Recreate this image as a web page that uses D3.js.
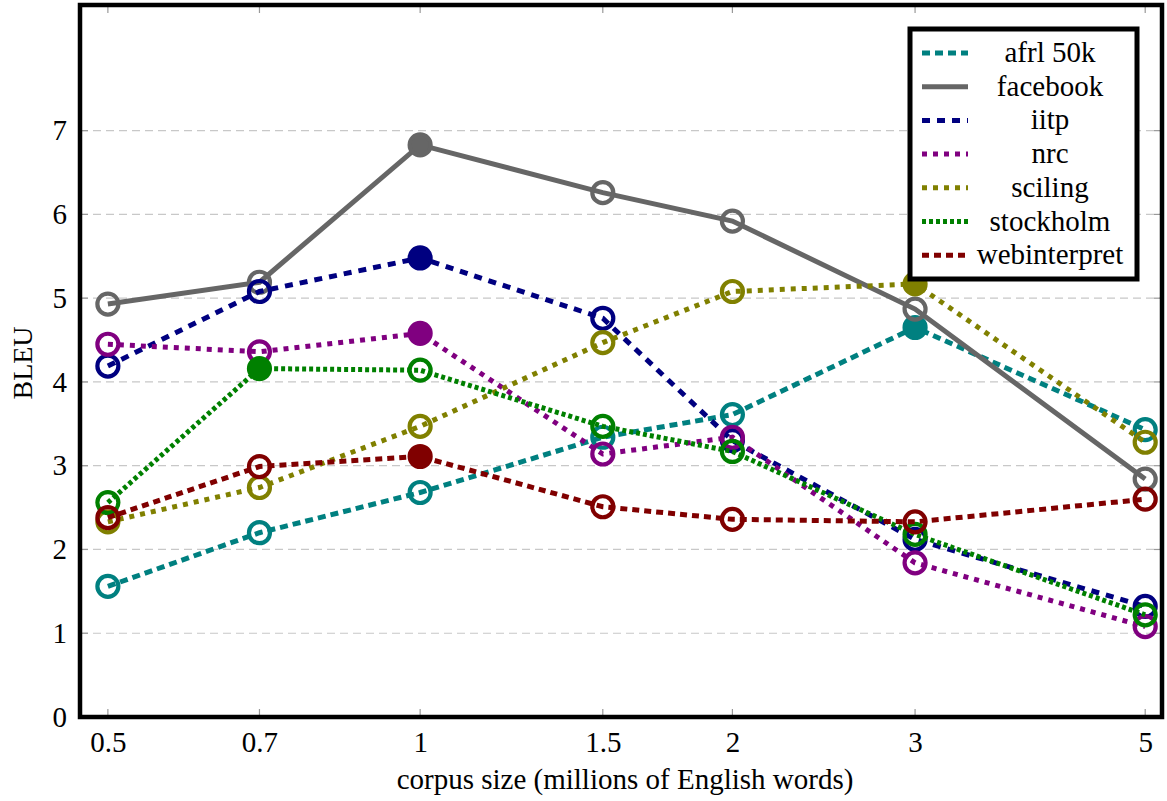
<!DOCTYPE html>
<html>
<head>
<meta charset="utf-8">
<script src="https://cdn.jsdelivr.net/npm/d3@7"></script>
<style>
  html, body { margin: 0; padding: 0; background: #fff; }
  svg { display: block; }
  text { font-family: "Liberation Serif", "DejaVu Serif", serif; fill: #000; }
</style>
</head>
<body>
<svg id="chart" width="1167" height="801"></svg>
<script>
const xValues = [0.5, 0.7, 1, 1.5, 2, 3, 5];
const xTickLabels = ["0.5", "0.7", "1", "1.5", "2", "3", "5"];
const yTicks = [0, 1, 2, 3, 4, 5, 6, 7];

const seriesNames = ["afrl 50k", "facebook", "iitp", "nrc", "sciling", "stockholm", "webinterpret"];
const afrl50k     = [1.56, 2.20, 2.68, 3.34, 3.61, 4.65, 3.43];
const facebook    = [4.93, 5.19, 6.83, 6.26, 5.92, 4.87, 2.84];
const iitp        = [4.19, 5.08, 5.48, 4.76, 3.30, 2.12, 1.32];
const nrc         = [4.45, 4.36, 4.58, 3.14, 3.34, 1.84, 1.08];
const sciling     = [2.33, 2.74, 3.47, 4.47, 5.08, 5.17, 3.28];
const stockholm   = [2.56, 4.16, 4.14, 3.47, 3.17, 2.18, 1.22];
const webinterpret= [2.38, 2.99, 3.11, 2.51, 2.36, 2.33, 2.60];
const seriesValues = [afrl50k, facebook, iitp, nrc, sciling, stockholm, webinterpret];

const colors = ["#008080", "#666666", "#000080", "#800080", "#808000", "#008000", "#800000"];
const dashes = ["8,5", null, "8,7", "5,6", "5,6", "4,3", "7,5"];

const svg = d3.select("#chart");
const L = 80, R = 1162, T = 5, B = 717;
const FONT = "Liberation Serif, DejaVu Serif, serif";

const x = d3.scaleLog().domain([0.47, 5.19]).range([L, R]);
const y = d3.scaleLinear().domain([0, 8.5]).range([B, T]);

// grid
svg.append("g").selectAll("line").data(yTicks.filter(d => d > 0)).join("line")
  .attr("x1", L).attr("x2", R)
  .attr("y1", d => y(d)).attr("y2", d => y(d))
  .attr("stroke", "#c8c8c8").attr("stroke-width", 1.2).attr("stroke-dasharray", "8,5");

// tick marks (inside, top & bottom / left & right)
const tickG = svg.append("g").attr("stroke", "#999").attr("stroke-width", 1.2);
xValues.forEach(v => {
  tickG.append("line").attr("x1", x(v)).attr("x2", x(v)).attr("y1", B).attr("y2", B - 8);
  tickG.append("line").attr("x1", x(v)).attr("x2", x(v)).attr("y1", T).attr("y2", T + 8);
});
yTicks.forEach(v => {
  tickG.append("line").attr("x1", L).attr("x2", L + 8).attr("y1", y(v)).attr("y2", y(v));
  tickG.append("line").attr("x1", R).attr("x2", R - 8).attr("y1", y(v)).attr("y2", y(v));
});

// axes labels via d3 axes (labels only)
const xAxis = d3.axisBottom(x).tickValues(xValues).tickFormat((d, i) => xTickLabels[i]).tickSize(0).tickPadding(14);
const gx = svg.append("g").attr("transform", `translate(0,${B})`).call(xAxis);
gx.attr("font-family", FONT);
gx.select(".domain").remove();
gx.selectAll("text").attr("font-size", 29).attr("font-family", FONT).attr("fill", "#000");

const yAxis = d3.axisLeft(y).tickValues(yTicks).tickFormat(d3.format("d")).tickSize(0).tickPadding(13);
const gy = svg.append("g").attr("transform", `translate(${L},0)`).call(yAxis);
gy.attr("font-family", FONT);
gy.select(".domain").remove();
gy.selectAll("text").attr("font-size", 29).attr("font-family", FONT).attr("fill", "#000");

// series
const line = d3.line().x((d, i) => x(xValues[i])).y(d => y(d));
seriesValues.forEach((vals, si) => {
  const g = svg.append("g");
  const maxV = d3.max(vals);
  g.append("path").datum(vals)
    .attr("d", line)
    .attr("fill", "none")
    .attr("stroke", colors[si])
    .attr("stroke-width", 5)
    .attr("stroke-dasharray", dashes[si]);
  g.selectAll("circle").data(vals).join("circle")
    .attr("cx", (d, i) => x(xValues[i]))
    .attr("cy", d => y(d))
    .attr("r", 10.5)
    .attr("fill", d => d === maxV ? colors[si] : "none")
    .attr("stroke", colors[si])
    .attr("stroke-width", 4.2);
});

// frame
svg.append("rect").attr("x", L).attr("y", T).attr("width", R - L).attr("height", B - T)
  .attr("fill", "none").attr("stroke", "#000").attr("stroke-width", 4.5);

// legend
const lg = svg.append("g");
lg.append("rect").attr("x", 910).attr("y", 29).attr("width", 227).attr("height", 250)
  .attr("fill", "#fff").attr("stroke", "#000").attr("stroke-width", 5);
seriesNames.forEach((name, i) => {
  const cy = 53 + i * 33.7;
  lg.append("line").attr("x1", 922).attr("x2", 968).attr("y1", cy).attr("y2", cy)
    .attr("stroke", colors[i]).attr("stroke-width", 5).attr("stroke-dasharray", dashes[i]);
  lg.append("text").attr("x", 1050).attr("y", cy + 9).attr("text-anchor", "middle")
    .attr("font-size", 29).attr("font-family", FONT).text(name);
});

// axis titles
svg.append("text").attr("x", (L + R) / 2 + 4).attr("y", 789).attr("text-anchor", "middle")
  .attr("font-size", 29).attr("font-family", FONT).text("corpus size (millions of English words)");
svg.append("text").attr("transform", "translate(32,363) rotate(-90)").attr("text-anchor", "middle")
  .attr("font-size", 28).attr("font-family", FONT).text("BLEU");
</script>
</body>
</html>
